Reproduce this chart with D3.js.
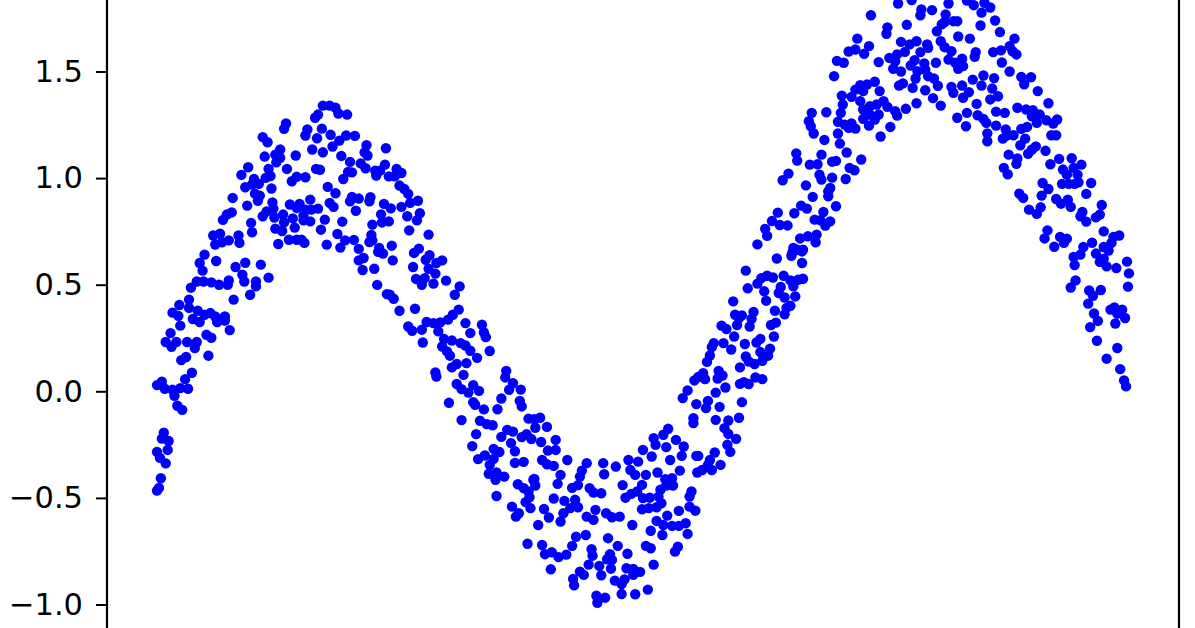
<!DOCTYPE html>
<html><head><meta charset="utf-8">
<script src="https://cdn.jsdelivr.net/npm/d3@7"></script>
<style>html,body{margin:0;padding:0;background:#fff}svg{display:block}</style>
</head><body><svg id="c" width="1195" height="628"></svg>
<script>
const yTickValues=[-1,-0.5,0,0.5,1,1.5];
const firstRise=[[0,-.466],[.02,-.453],[.04,-.408],[.09,-.338],[.03,-.312],[0,-.284],[.11,-.275],[.12,-.233],[.05,-.222],[.07,-.194],[.26,-.087],[.21,-.068],[.18,-.021],[.32,.012],[.24,.015],[.16,.007],[.08,.012],[0,.029],[.05,.045],[.29,.057],[.36,.087],[.25,.146],[.3,.161],[.53,.167],[.15,.209],[.09,.231],[.2,.231],[.14,.273],[.31,.231],[.39,.203],[.41,.231],[.56,.251],[.51,.265],[.75,.287],[.24,.308],[.22,.354],[.16,.369],[.23,.405],[.37,.339],[.44,.325],[.42,.378],[.33,.391],[.33,.43],[.49,.359],[.55,.367],[.6,.351],[.62,.325],[.7,.332],[.7,.351],[.79,.43],[.96,.453],[1.02,.492],[.9,.515],[.35,.486],[.41,.515],[.48,.515],[.56,.511],[.64,.5],[.73,.5],[1.15,.533],[.74,.52],[1.02,.515],[.88,.547],[.47,.566],[.44,.602],[.49,.641],[.61,.611],[.81,.583],[.91,.603],[1.07,.594],[.6,.688],[.58,.731],[.65,.739],[.67,.699],[.74,.708],[.84,.731],[.85,.696],[.98,.746],[.97,.79],[.68,.804],[.72,.829],[.77,.839],[.78,.907],[.93,.871],[.87,1.015],[.94,1.051],[.91,.957],[1,.996],[.98,.97],[1.01,.927],[1.06,.918],[1.04,.894],[1.05,.973],[1.12,1.001],[1.17,1.01],[1.15,1.043],[1.18,.951],[1.19,.886],[1.2,.857],[1.13,.844],[1.09,.821],[1.21,.815],[1.22,.763],[1.29,.752],[1.31,.792],[1.3,.829],[1.4,.811],[1.42,.768],[1.25,.691],[1.36,.711],[1.44,.711],[1.37,.876],[1.44,.86],[1.39,.985],[1.44,1.006],[1.34,1.043],[1.43,1.106],[1.23,1.074],[1.22,1.11],[1.27,1.134],[1.27,1.095],[1.11,1.101],[1.14,1.168],[1.09,1.192],[1.31,1.231],[1.33,1.256]];
const firstPeak=[[1.71,1.34],[1.78,1.34],[1.84,1.33],[1.87,1.303],[1.96,1.298],[1.66,1.298],[1.63,1.283],[1.7,1.232],[1.55,1.228],[1.53,1.2],[1.79,1.203],[1.65,1.187],[1.95,1.2],[2.04,1.198],[1.88,1.176],[1.81,1.148],[1.6,1.134],[1.71,1.121],[1.9,1.104],[2.16,1.154],[2.14,1.121],[2.17,1.106],[2.36,1.14],[1.99,1.076],[2.1,1.069],[2.15,1.046],[2.35,1.063],[2.25,1.035],[2.3,1.035],[2.26,1.012],[2.47,1.043],[2.52,1.024],[2.39,1.008],[2.45,1.008],[1.64,1.043],[1.68,1.039],[1.97,1.029],[2.01,1.027],[1.92,.996],[1.53,1.004],[2.5,.965],[2.55,.949],[2.59,.926],[1.76,.959],[1.84,.929],[1.58,.899],[1.47,.879],[1.78,.884],[1.82,.865],[1.66,.857],[1.59,.852],[1.53,.852],[1.51,.824],[1.51,.802],[1.58,.797],[1.73,.805],[1.91,.796],[1.69,.758],[2.01,.912],[2.08,.904],[1.99,.891],[2.2,.91],[2.19,.891],[2.05,.847],[2.34,.879],[2.41,.858],[2.31,.83],[2.32,.792],[2.39,.797],[2.22,.782],[2.52,.865],[2.58,.821],[2.61,.884],[2.69,.894],[2.71,.835],[2.68,.802],[2.6,.755],[2.8,.735],[1.49,.711],[1.52,.696],[1.75,.688],[1.86,.738],[1.94,.708],[1.89,.674],[2.03,.71],[2.21,.733],[2.19,.7],[2.22,.708],[2.08,.668],[2.29,.672],[2.28,.654],[2.33,.646],[2.42,.683],[2.43,.614],[2.08,.614],[2.13,.625],[2.12,.569],[2.24,.575],[2.27,.499],[2.7,.669],[2.65,.649],[2.81,.638],[2.77,.617],[2.64,.583],[2.8,.575],[2.87,.552],[2.88,.602],[2.94,.614],[2.67,.527],[2.76,.531],[2.73,.5],[2.85,.505],[2.98,.519],[3.12,.492],[2.37,.456],[2.4,.453]];
const firstFall=[[3.07,.453],[2.44,.434],[2.5,.378],[2.66,.387],[3.11,.383],[3.05,.359],[3,.336],[2.92,.323],[2.85,.32],[2.78,.325],[2.59,.304],[2.63,.284],[2.73,.289],[2.9,.281],[3.18,.32],[3.35,.312],[3.23,.273],[3.37,.276],[3.39,.254],[2.74,.229],[2.96,.245],[3.04,.238],[3.13,.226],[3.18,.215],[2.94,.21],[2.99,.187],[3.02,.167],[3.23,.19],[3.3,.157],[3.43,.189],[3.19,.132],[3.09,.128],[3.04,.112],[2.87,.088],[2.88,.069],[3.16,.077],[3.6,.096],[3.59,.065],[3.67,.038],[3.63,.007],[3.75,.008],[3.09,.034],[3.14,.01],[3.21,-.006],[3.26,.029],[3.32,.002],[3.55,-.034],[3.74,-.045],[3.76,-.071],[3.01,-.054],[3.26,-.051],[3.28,-.063],[3.37,-.085],[3.51,-.084],[3.14,-.135],[3.33,-.138],[3.4,-.154],[3.46,-.159],[3.83,-.128],[3.89,-.131],[3.95,-.124],[3.9,-.171],[4.02,-.167],[3.29,-.201],[3.55,-.214],[3.61,-.181],[3.67,-.189],[3.76,-.215],[3.81,-.201],[3.86,-.224],[3.96,-.238],[4.11,-.228],[3.65,-.243],[3.69,-.281],[3.25,-.257],[3.47,-.27],[3.53,-.285],[3.38,-.301],[3.31,-.318],[3.47,-.317],[3.43,-.345],[3.69,-.336],[3.78,-.331],[4.03,-.278],[4.11,-.275],[3.97,-.322],[4.02,-.342],[4.09,-.35],[4.23,-.322],[4.43,-.337],[4.38,-.372],[4.36,-.4],[3.42,-.387],[3.5,-.381],[3.58,-.4],[4.16,-.392],[3.89,-.411]];
const trough=[[3.5,-.491],[3.49,-.415],[3.72,-.436],[3.88,-.415],[3.9,-.442],[3.83,-.47],[3.78,-.454],[3.84,-.497],[3.8,-.52],[3.85,-.548],[3.66,-.541],[3.73,-.572],[3.7,-.588],[3.99,-.552],[4.04,-.592],[3.93,-.627],[4.09,-.503],[4.13,-.434],[4.28,-.453],[4.34,-.44],[4.2,-.514],[4.31,-.509],[4.34,-.544],[4.26,-.548],[4.19,-.572],[4.16,-.611],[4.43,-.588],[4.5,-.603],[4.52,-.556],[4.46,-.454],[4.5,-.475],[4.58,-.478],[4.61,-.389],[4.6,-.337],[4.73,-.353],[4.63,-.572],[4.69,-.591],[4.77,-.588],[4.9,-.627],[4.8,-.44],[4.83,-.499],[4.89,-.481],[4.95,-.47],[5,-.439],[5.01,-.501],[5.08,-.499],[5,-.553],[5.07,-.548],[5.15,-.544],[5.2,-.525],[5.19,-.462],[5.17,-.494],[4.86,-.322],[4.96,-.33],[4.88,-.369],[4.93,-.392],[5.04,-.392],[5.16,-.381],[5.24,-.412],[5.31,-.408],[5.25,-.442],[5.32,-.442],[5.39,-.372],[5.29,-.322],[5.1,-.306],[5.01,-.275],[5.12,-.22],[5.14,-.251],[5.22,-.204],[5.27,-.176],[5.25,-.262],[5.35,-.228],[5.43,-.259],[5.41,-.303],[5.56,-.303],[5.53,-.149],[5.57,-.381],[5.51,-.47],[5.49,-.494],[5.49,-.541],[5.55,-.56],[5.38,-.561],[5.26,-.583],[5.15,-.608],[5.22,-.627],[5.31,-.631],[5.38,-.631],[5.45,-.619],[5.47,-.669],[5.09,-.654],[5.21,-.674],[5.37,-.729],[5.34,-.752],[5.04,-.725],[5.09,-.736],[5.12,-.813],[4.85,-.762],[4.75,-.725],[4.65,-.689],[4.42,-.674],[4.32,-.682],[4.28,-.725],[3.82,-.715],[3.97,-.721],[4,-.764],[4.07,-.755],[4.14,-.778],[4.22,-.766],[4.06,-.835],[4.48,-.741],[4.49,-.771],[4.67,-.764],[4.64,-.788],[4.69,-.791],[4.68,-.832],[4.56,-.819],[4.45,-.813],[4.36,-.846],[4.4,-.861],[4.58,-.863],[4.29,-.88],[4.3,-.91],[4.84,-.83],[4.91,-.833],[4.98,-.847],[4.91,-.861],[4.82,-.882],[4.72,-.888],[4.79,-.904],[5.06,-.93],[4.93,-.952],[4.79,-.951],[4.53,-.959],[4.62,-.968],[4.54,-.992]];
const secondRise=[[6.39,.623],[6.54,.636],[6.65,.656],[6.65,.602],[6.07,.566],[6.29,.542],[6.35,.534],[6.23,.531],[6.19,.505],[6.09,.483],[6.26,.469],[6.28,.425],[6.46,.542],[6.53,.52],[6.56,.492],[6.66,.528],[6.61,.523],[6.43,.489],[6.41,.461],[6.47,.44],[6.58,.445],[6.53,.401],[6.49,.391],[6.47,.361],[6.37,.378],[5.94,.422],[6.15,.372],[6.13,.34],[6.11,.304],[5.96,.359],[6.03,.356],[6,.344],[5.98,.311],[6.38,.322],[6.33,.311],[5.82,.308],[5.87,.292],[6.36,.257],[5.95,.257],[6.22,.246],[6.18,.229],[6.06,.222],[5.84,.226],[5.74,.226],[5.72,.208],[5.92,.196],[6.32,.2],[6.22,.184],[6.3,.167],[5.7,.168],[5.67,.138],[6.07,.163],[6.1,.14],[6.16,.128],[6.24,.143],[6.01,.112],[5.79,.096],[5.83,.074],[5.78,.06],[5.63,.085],[5.65,.057],[5.58,.067],[5.54,.051],[6.17,.065],[6.24,.057],[6.05,.043],[6.01,.035],[6.1,.034],[5.86,.018],[5.76,-.006],[5.47,.004],[5.42,-.032],[5.68,-.045],[5.56,-.06],[5.66,-.079],[5.8,-.073],[6.03,-.051],[5.53,-.126],[5.76,-.134],[5.89,-.137],[6,-.124],[5.85,-.173],[5.89,-.2],[5.97,-.223],[5.88,-.251],[5.91,-.284],[5.75,-.287],[5.58,-.303],[5.7,-.322],[5.68,-.345],[5.81,-.345],[5.62,-.369],[5.72,-.369],[6.4,.838],[6.34,.799],[6.78,.805],[6.84,.802],[6.94,.797],[6.89,.777],[6.42,.78],[6.5,.778],[6.27,.762],[6.29,.729],[6.19,.689],[6.63,.717],[6.71,.727],[6.8,.735],[6.79,.699],[6.56,.672],[6.66,.664],[6.6,.664],[6.55,.65]];
const secondPeak=[[7.64,1.819],[7.36,1.764],[7.53,1.707],[7.52,1.677],[7.73,1.719],[7.88,1.791],[7.87,1.764],[7.99,1.788],[8.16,1.819],[8.13,1.768],[7.78,1.835],[8.04,1.689],[8.09,1.721],[8.12,1.732],[8.21,1.736],[8.25,1.736],[8.26,1.664],[7.22,1.654],[7.13,1.594],[7.2,1.603],[7.34,1.619],[7.29,1.583],[7.01,1.55],[7.08,1.541],[7.44,1.544],[6.98,1.478],[7.67,1.639],[7.76,1.627],[7.83,1.642],[7.71,1.592],[7.63,1.58],[7.55,1.564],[7.61,1.548],[7.59,1.513],[7.67,1.5],[7.87,1.591],[7.94,1.627],[7.95,1.611],[7.81,1.553],[7.77,1.528],[7.91,1.538],[8.03,1.541],[8.08,1.642],[8.12,1.614],[8.19,1.595],[8.16,1.556],[8.23,1.541],[8.26,1.513],[7.84,1.501],[7.82,1.467],[7.92,1.509],[7.95,1.478],[8.01,1.467],[8.05,1.433],[7.69,1.444],[7.65,1.434],[7.79,1.423],[7.92,1.412],[8,1.375],[7.83,1.351],[7.72,1.325],[8.08,1.34],[8.19,1.428],[8.21,1.4],[8.25,1.283],[7.4,1.452],[7.32,1.439],[7.25,1.436],[7.2,1.415],[7.28,1.408],[7.16,1.381],[7.25,1.361],[7.45,1.408],[7.06,1.387],[7.07,1.345],[7.05,1.306],[7.28,1.322],[7.35,1.337],[7.42,1.345],[7.49,1.361],[7.53,1.334],[7.61,1.314],[7.63,1.293],[7.44,1.298],[7.35,1.298],[7.28,1.278],[7.4,1.275],[7.34,1.246],[7.02,1.264],[7.09,1.251],[7.16,1.256],[7.2,1.232],[7.13,1.236],[7.56,1.24],[7.46,1.195],[6.75,1.306],[6.9,1.309],[6.72,1.267],[6.74,1.243],[6.77,1.209],[7.02,1.209],[6.88,1.179],[7.04,1.162],[7.11,1.12],[6.85,1.11],[6.59,1.116],[6.6,1.082],[6.73,1.063],[6.81,1.065],[6.96,1.077],[7,1.081],[7.26,1.087],[7.14,1.048],[7.19,1.037],[6.83,1.016],[6.85,.993],[6.96,1.002],[7.1,.996],[6.51,1.021],[6.45,.99],[6.69,.966],[6.94,.954],[6.92,.938],[6.92,.915],[6.76,.912],[7,.868],[6.64,.871],[6.7,.857],[6.57,.835],[6.87,.841]];
const secondFall=[[8.35,1.833],[8.42,1.811],[8.53,1.822],[8.59,1.8],[8.5,1.776],[8.64,1.739],[8.49,1.716],[8.69,1.685],[8.38,1.654],[8.84,1.654],[8.79,1.619],[8.82,1.595],[8.86,1.58],[8.7,1.599],[8.62,1.591],[8.44,1.591],[8.43,1.569],[8.71,1.542],[8.3,1.56],[8.31,1.525],[8.79,1.5],[8.52,1.481],[8.41,1.462],[8.63,1.469],[8.91,1.475],[9.01,1.473],[8.94,1.44],[8.3,1.434],[8.5,1.434],[8.61,1.42],[8.37,1.403],[8.31,1.377],[8.67,1.384],[8.59,1.369],[9.08,1.408],[9.19,1.351],[8.45,1.348],[8.35,1.306],[8.46,1.295],[8.52,1.278],[8.55,1.259],[8.65,1.312],[8.74,1.306],[8.87,1.33],[8.96,1.322],[9.03,1.318],[9.02,1.29],[9.1,1.298],[9.07,1.259],[9.17,1.271],[9.28,1.275],[9.24,1.256],[8.34,1.243],[8.65,1.246],[8.97,1.24],[8.91,1.231],[8.75,1.228],[8.56,1.21],[8.76,1.2],[8.83,1.201],[8.72,1.185],[8.56,1.173],[9.22,1.201],[9.27,1.201],[8.95,1.185],[8.9,1.154],[9.06,1.149],[9.02,1.134],[8.98,1.114],[9.16,1.128],[8.78,1.11],[8.87,1.092],[8.86,1.067],[9.3,1.09],[9.43,1.093],[9.21,1.065],[9.53,1.063],[8.73,1.048],[8.77,1.018],[9.34,1.04],[9.38,1.016],[9.45,1.048],[9.49,1.016],[9.5,.98],[9.33,.973],[9.4,.973],[9.46,.973],[9.63,.977],[9.13,.977],[9.19,.949],[9.12,.918],[8.89,.927],[8.93,.907],[9.58,.926],[9.27,.902],[9.39,.899]];
const lastDrop=[[9.32,.88],[9.42,.865],[9.74,.874],[8.99,.852],[9.07,.832],[9.11,.863],[9.54,.841],[9.52,.821],[9.58,.796],[9.68,.816],[9.72,.829],[9.18,.755],[9.15,.717],[9.31,.724],[9.38,.716],[9.35,.696],[9.25,.678],[9.76,.75],[9.92,.731],[9.86,.724],[9.84,.696],[9.64,.697],[9.76,.677],[9.55,.677],[9.81,.66],[9.52,.641],[9.45,.63],[9.68,.646],[9.46,.592],[9.76,.622],[9.72,.607],[9.79,.586],[9.89,.578],[10,.608],[10.02,.553],[10.01,.491],[9.47,.52],[9.42,.487],[9.61,.473],[9.73,.475],[9.65,.448],[9.6,.411],[9.87,.393],[9.83,.383],[9.95,.383],[9.9,.364],[9.98,.344],[9.88,.318],[9.66,.365],[9.7,.33],[9.62,.301],[9.69,.237],[9.9,.203],[9.79,.153],[9.93,.104],[9.97,.051],[9.99,.023]];

const points=[...firstRise,...firstPeak,...firstFall,...trough,...secondRise,...secondPeak,...secondFall,...lastDrop];
const W=1195,H=628,spineL=107,spineR=1179;
const x=d3.scaleLinear().domain([0,10]).range([157,1127]);
const y=d3.scaleLinear().domain([-1,1.5]).range([604.5,71.5]);
const svg=d3.select("#c");
svg.append("g").selectAll("circle").data(points).join("circle")
  .attr("cx",d=>x(d[0])).attr("cy",d=>y(d[1])).attr("r",5.2).attr("fill","#0000ff");
const ax=svg.append("g").attr("transform",`translate(${spineL},0)`)
  .call(d3.axisLeft(y).tickValues(yTickValues).tickSize(11).tickPadding(13)
    .tickFormat(v=>d3.format(".1f")(v).replace("-","\u2212")));
ax.select(".domain").remove();
ax.selectAll("line").attr("stroke","#000").attr("stroke-width",2);
ax.selectAll("text").attr("fill","#000").attr("font-family","'DejaVu Sans'").attr("font-size",30.5);
[spineL,spineR].forEach(s=>svg.append("line").attr("x1",s).attr("x2",s).attr("y1",0).attr("y2",H)
  .attr("stroke","#000").attr("stroke-width",2.2));
</script></body></html>
